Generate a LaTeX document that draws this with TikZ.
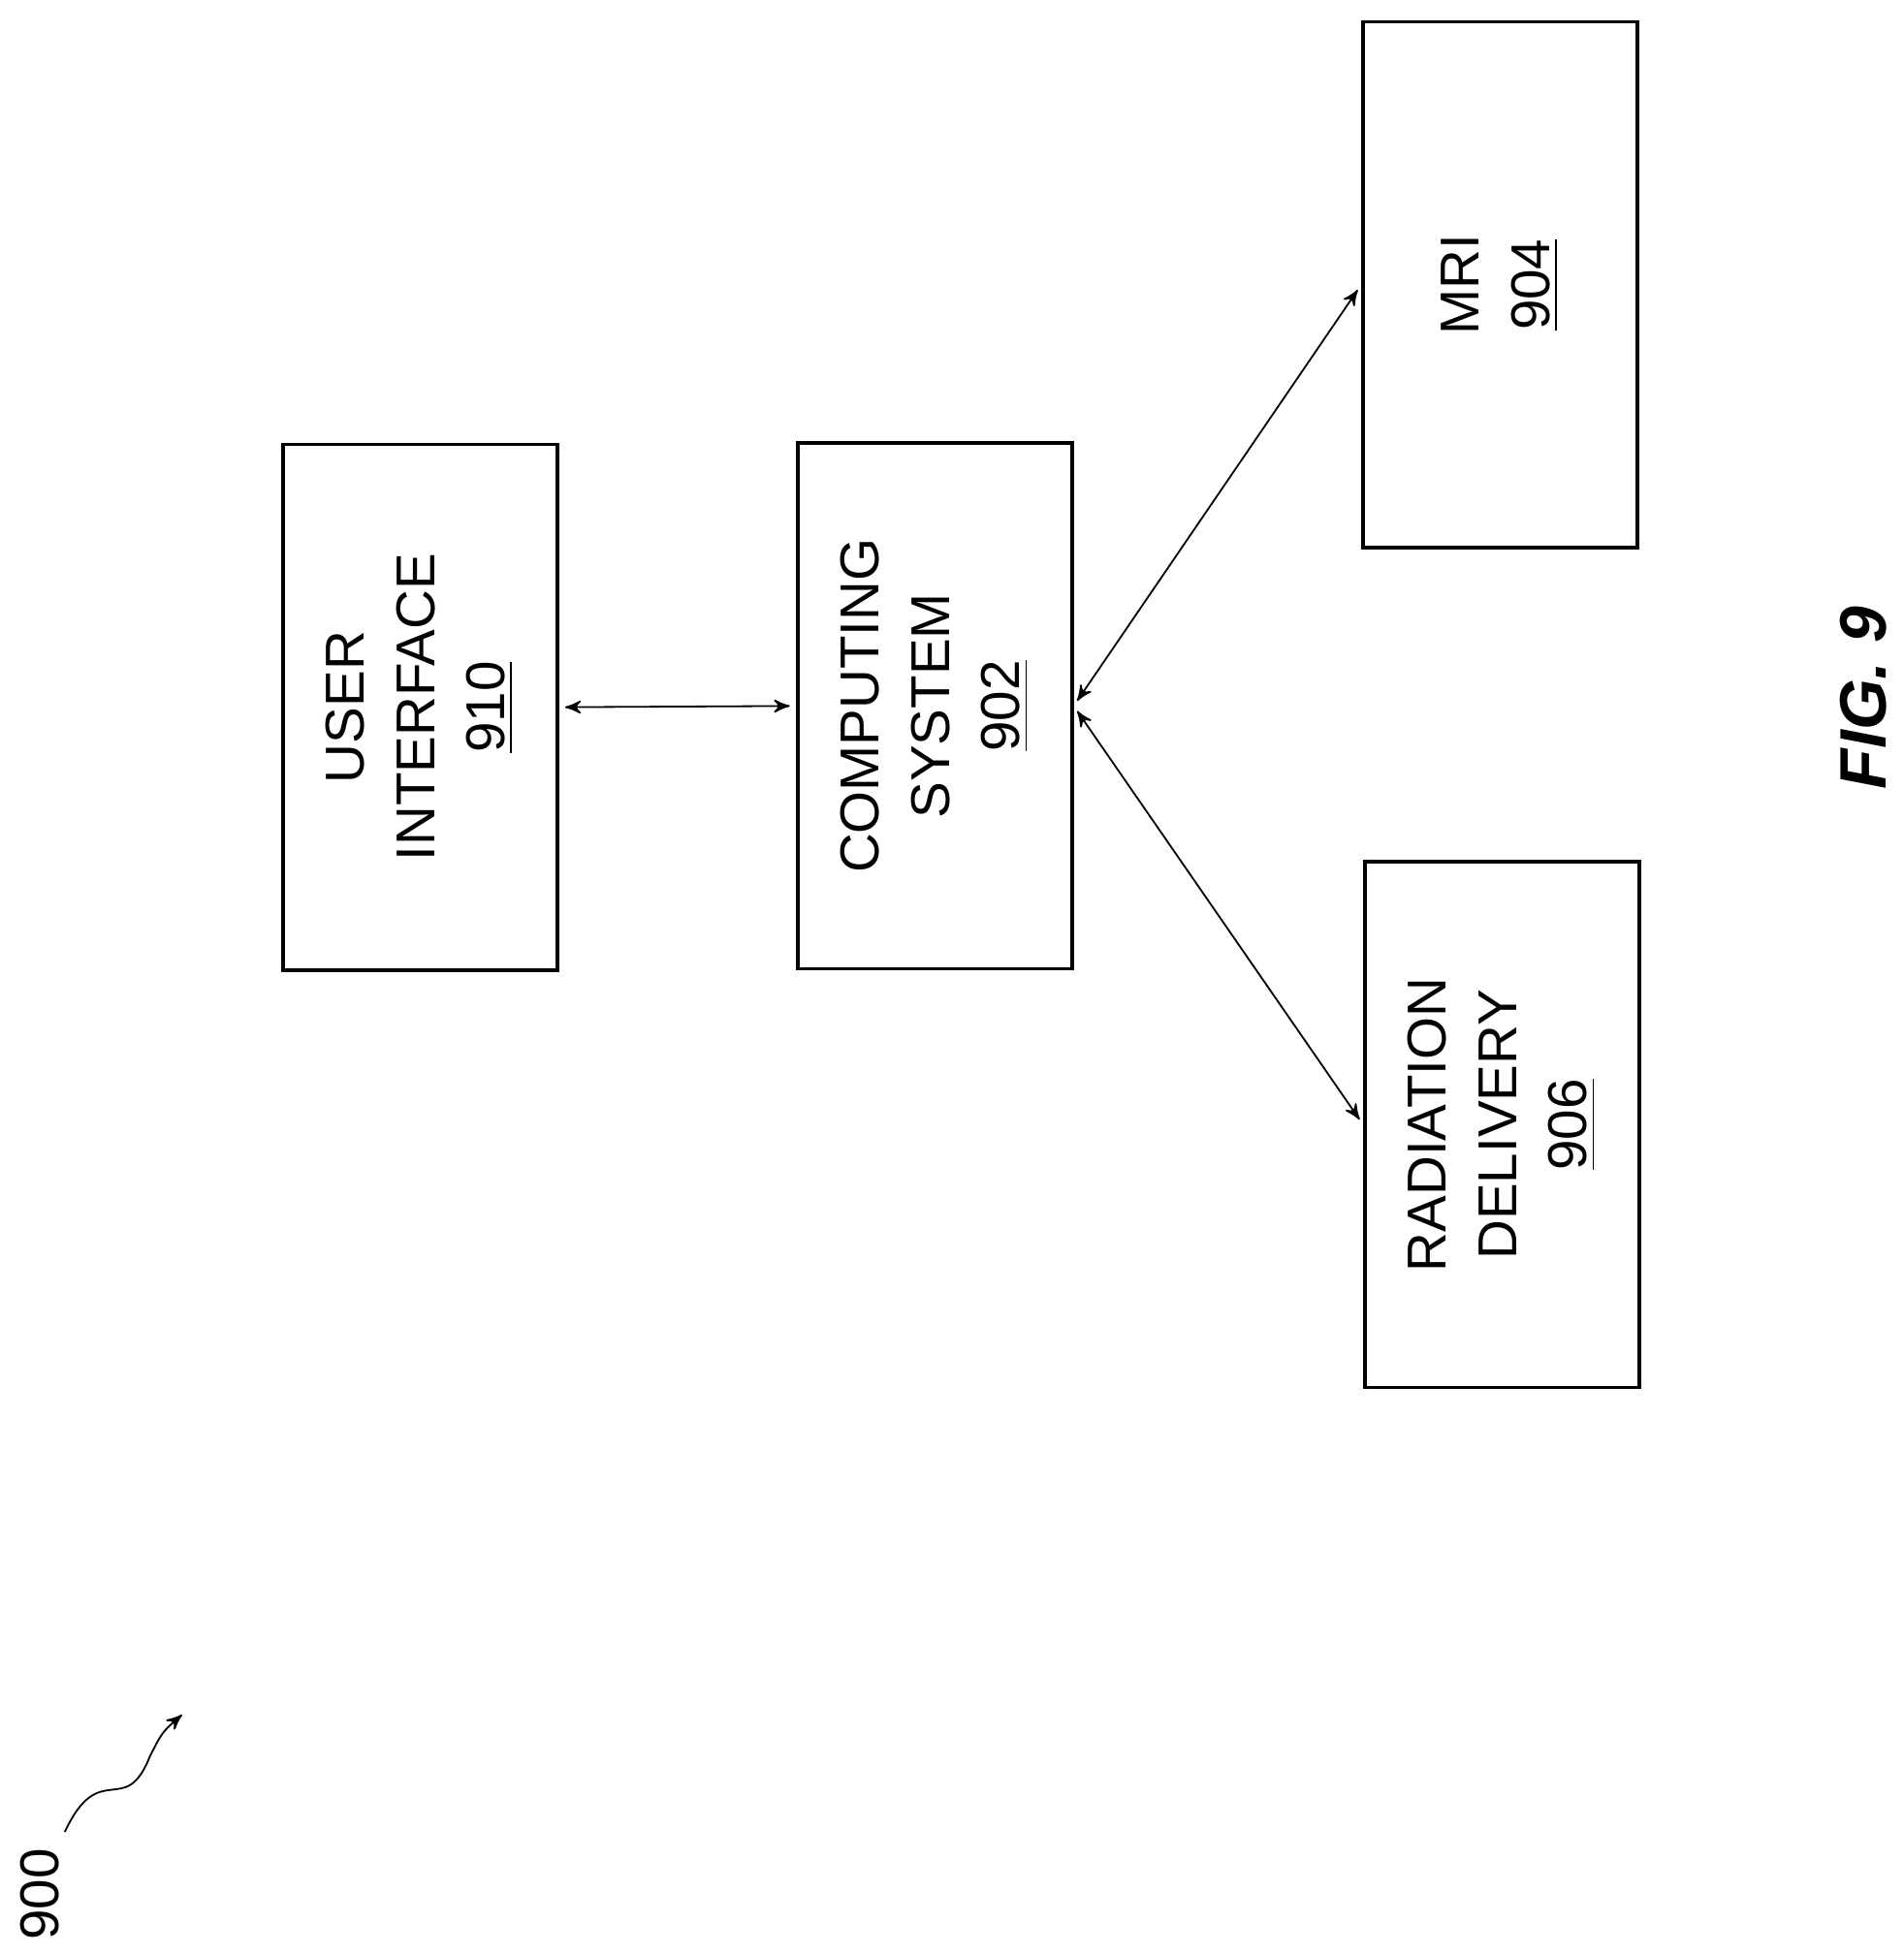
\documentclass[tikz,border=0pt]{standalone}
\usepackage{fontspec}
\setmainfont{Liberation Sans}
\usetikzlibrary{arrows}
\tikzset{
   every path/.style={>=stealth'},
   blk/.style={draw,thick,minimum width=4.22cm,minimum height=2.2cm,align=center,
     rotate=90,font=\fontsize{12.5}{16}\selectfont},
   lnk/.style={<->,thin,shorten >=0.5mm,shorten <=0.5mm},
}
\begin{document}
\begin{tikzpicture}
  \useasboundingbox (0,0) rectangle (15.27,-15.68);

  \node[blk] (ui)  at (3.37,-5.675) {USER\\INTERFACE\\\underline{910}};
  \node[blk] (cs)  at (7.50,-5.665) {COMPUTING\\SYSTEM\\\underline{902}};
  \node[blk] (mri) at (12.035,-2.285) {MRI\\\underline{904}};
  \node[blk] (rd)  at (12.05,-9.025) {RADIATION\\DELIVERY\\\underline{906}};

  \draw[lnk] (ui.south) -- (cs.north);
  \draw[lnk] (cs.south) -- (mri.north);
  \draw[lnk] (cs.south) -- (rd.north);

  \node[rotate=90,font=\bfseries\itshape\fontsize{15}{18}\selectfont] (fig) at (14.95,-5.6) {FIG. 9};
  \node[rotate=90,font=\fontsize{12.5}{15}\selectfont] (lbl) at (0.32,-15.2) {900};
  \coordinate (tip) at (1.46,-13.76);
  \draw[->,thin] (0.52,-14.7) .. controls (0.8,-14.1) and (1.0,-14.6) .. (1.2,-14.1) .. controls (1.3,-13.9) .. (tip);
\end{tikzpicture}
\end{document}
